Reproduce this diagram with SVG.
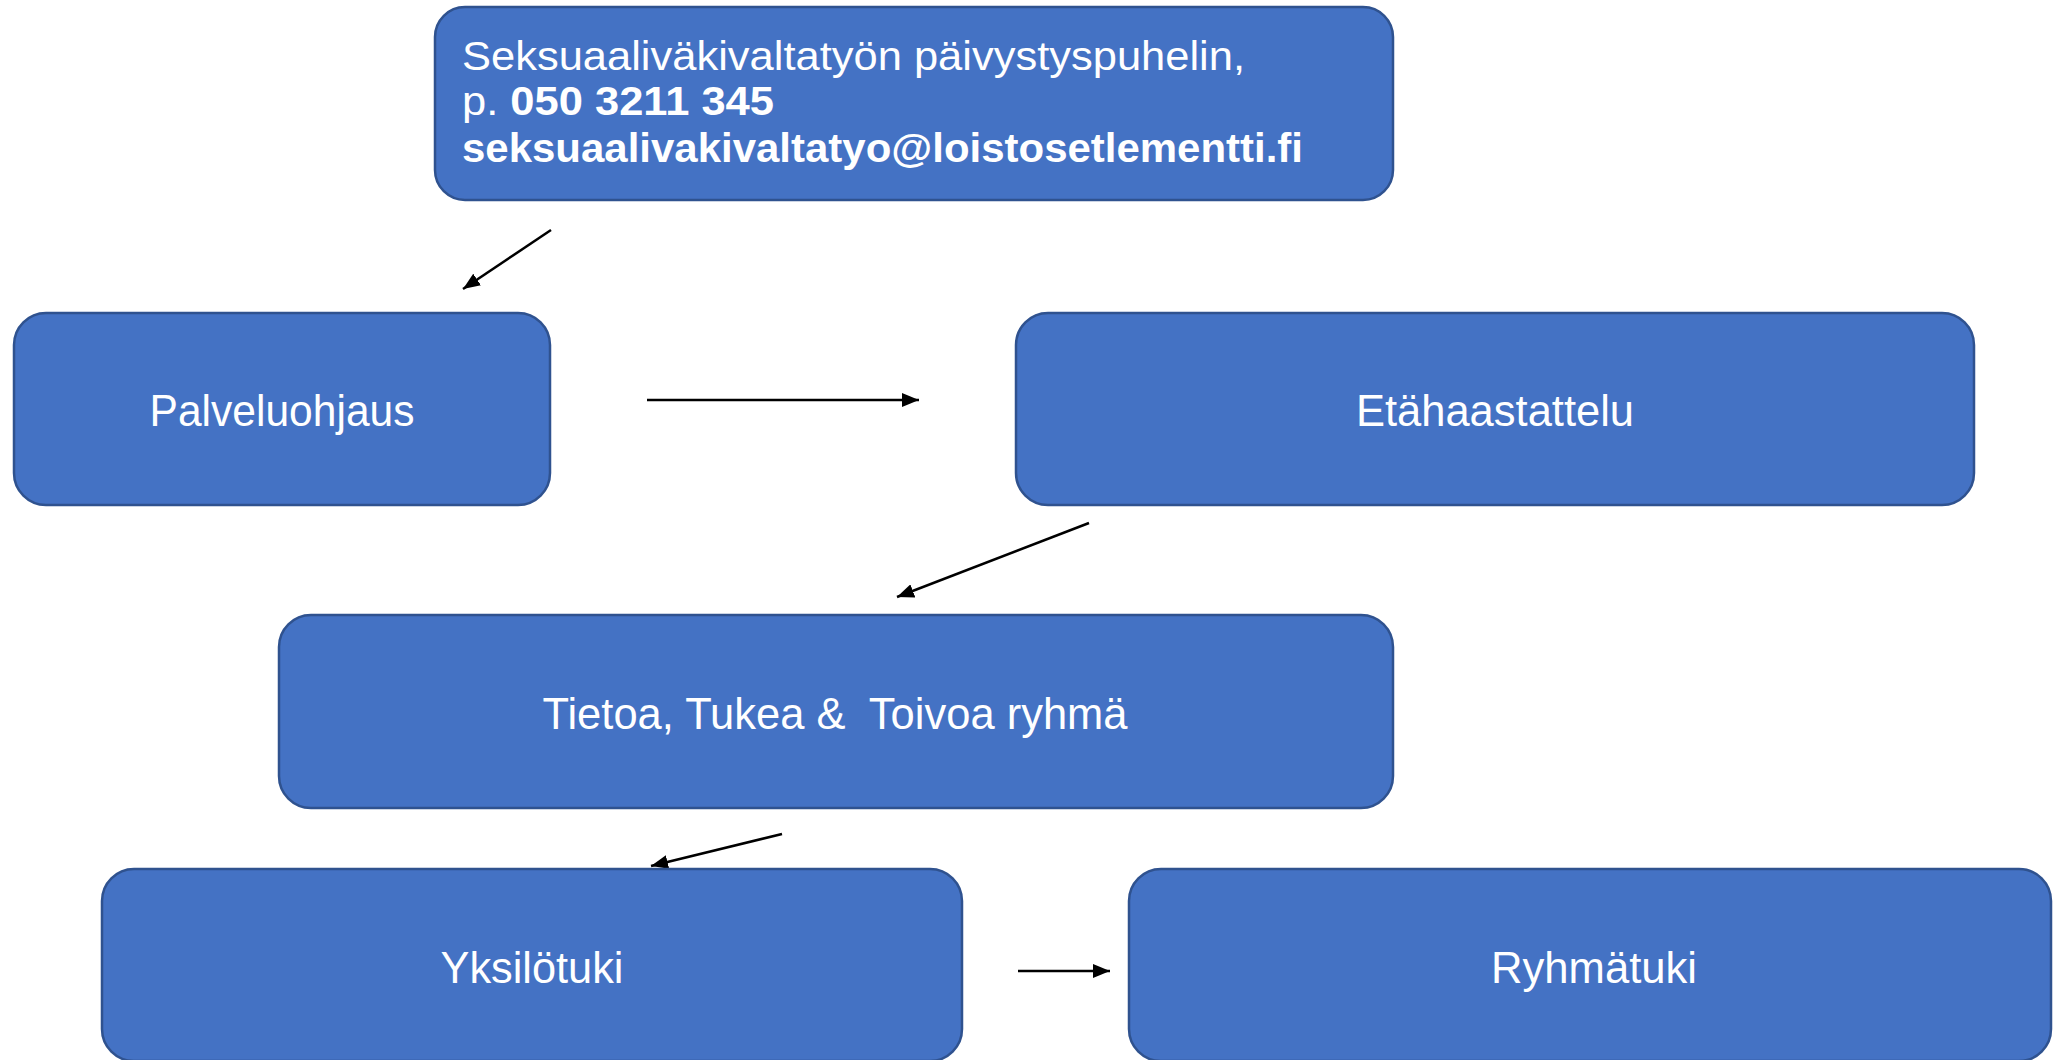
<svg xmlns="http://www.w3.org/2000/svg" width="2053" height="1060" viewBox="0 0 2053 1060">
<style>
.box{fill:#4472C4;stroke:#2F528F;stroke-width:2.5}
.lbl{font-family:"Liberation Sans",Arial,sans-serif;font-size:44px;fill:#ffffff;text-anchor:middle}
.top{font-family:"Liberation Sans",Arial,sans-serif;font-size:40px;fill:#ffffff}
.b{font-weight:bold}
.conn{stroke:#000;stroke-width:2.5;fill:none;marker-end:url(#ah)}
</style>
<defs>
<marker id="ah" markerUnits="userSpaceOnUse" markerWidth="18" markerHeight="14" refX="17" refY="7" orient="auto">
<path d="M0,0 L17,7 L0,14 z" fill="#000"/>
</marker>
</defs>
<rect width="2053" height="1060" fill="#ffffff"/>
<g id="connectors">
<line class="conn" x1="551" y1="230" x2="463" y2="289"/>
<line class="conn" x1="647" y1="400" x2="919" y2="400"/>
<line class="conn" x1="1089" y1="523" x2="897" y2="597"/>
<line class="conn" x1="782" y1="834" x2="651" y2="866"/>
<line class="conn" x1="1018" y1="971" x2="1110" y2="971"/>
</g>
<g id="node-contact">
<rect class="box" x="435" y="7" width="958" height="193" rx="30"/>
<text class="top" x="462" y="70" textLength="783" lengthAdjust="spacingAndGlyphs">Seksuaaliväkivaltatyön päivystyspuhelin,</text>
<text class="top" x="462" y="115" textLength="312" lengthAdjust="spacingAndGlyphs"><tspan>p. </tspan><tspan class="b">050 3211 345</tspan></text>
<text class="top b" x="462" y="162" textLength="841" lengthAdjust="spacingAndGlyphs">seksuaalivakivaltatyo@loistosetlementti.fi</text>
</g>
<g id="node-palveluohjaus">
<rect class="box" x="14" y="313" width="536" height="192" rx="32"/>
<text class="lbl" x="282" y="426" textLength="265" lengthAdjust="spacingAndGlyphs">Palveluohjaus</text>
</g>
<g id="node-etahaastattelu">
<rect class="box" x="1016" y="313" width="958" height="192" rx="32"/>
<text class="lbl" x="1495" y="426" textLength="278" lengthAdjust="spacingAndGlyphs">Etähaastattelu</text>
</g>
<g id="node-tietoa">
<rect class="box" x="279" y="615" width="1114" height="193" rx="32"/>
<text class="lbl" x="835" y="729" textLength="585" lengthAdjust="spacingAndGlyphs" xml:space="preserve">Tietoa, Tukea &amp;  Toivoa ryhmä</text>
</g>
<g id="node-yksilotuki">
<rect class="box" x="102" y="869" width="860" height="192" rx="32"/>
<text class="lbl" x="532" y="983" textLength="183" lengthAdjust="spacingAndGlyphs">Yksilötuki</text>
</g>
<g id="node-ryhmatuki">
<rect class="box" x="1129" y="869" width="922" height="192" rx="32"/>
<text class="lbl" x="1594" y="983" textLength="206" lengthAdjust="spacingAndGlyphs">Ryhmätuki</text>
</g>
</svg>
